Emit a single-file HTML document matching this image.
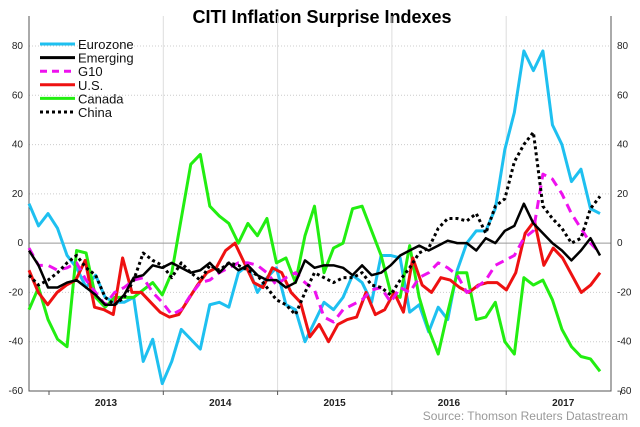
<!DOCTYPE html>
<html><head><meta charset="utf-8"><style>
body{margin:0;background:#fff;font-family:"Liberation Sans",Arial,sans-serif}
svg{display:block}
</style></head><body>
<svg id="c" width="640" height="427">
<text x="322" y="23" text-anchor="middle" font-size="18" font-weight="bold">CITI Inflation Surprise Indexes</text>
<text x="628" y="420" text-anchor="end" font-size="12" fill="#999">Source: Thomson Reuters Datastream</text>
</svg>
<script>
const yTicks=[80,60,40,20,0,-20,-40,-60];
const years=["2013","2014","2015","2016","2017"];
const seriesNames=["Eurozone","Emerging","G10","U.S.","Canada","China"];
const eurozone=[16,7,12,6,-5,-10,-18,-13,-22,-24,-24,-22,-48,-39,-57,-48,-35,-39,-43,-25,-24,-26,-12,-9,-20,-14,-10,-25,-27,-40,-32,-24,-27,-22,-13,-16,-24,-5,-5,-6,-28,-25,-36,-26,-31,-11,0,5,5,14,38,53,78,70,78,48,40,25,30,14,12];
const emerging=[-3,-9,-18,-18,-16,-15,-18,-21,-25,-25,-21,-14,-13,-9,-10,-8,-10,-12,-11,-8,-12,-8,-11,-9,-13,-15,-15,-18,-16,-7,-10,-9,-9,-10,-13,-9,-13,-12,-9,-5,-3,-1,-3,-1,1,0,0,-3,2,0,5,7,16,8,4,0,-3,-7,-3,2,-5];
const g10=[-2,-9,-9,-11,-10,-8,-15,-20,-25,-20,-18,-15,-14,-20,-24,-29,-27,-21,-16,-15,-12,-10,-8,-8,-9,-12,-17,-14,-12,-16,-19,-30,-32,-27,-25,-23,-19,-18,-24,-18,-20,-14,-12,-8,-10,-13,-20,-18,-15,-9,-7,-5,2,5,28,26,20,12,6,0,-4];
const us=[-11,-20,-25,-20,-17,-15,-7,-26,-27,-29,-6,-20,-20,-24,-28,-30,-29,-23,-17,-12,-10,-3,0,-8,-16,-18,-10,-12,-20,-24,-38,-33,-40,-33,-31,-30,-20,-29,-27,-20,-28,-6,-17,-20,-14,-15,-18,-20,-17,-16,-16,-19,-12,4,9,-9,-2,-6,-13,-20,-17,-12];
const canada=[-27,-18,-31,-39,-42,-3,-4,-22,-26,-22,-22,-22,-19,-16,-21,-12,10,32,36,15,11,8,0,8,3,10,-8,-6,-16,3,15,-12,-2,0,14,15,5,-5,-20,-22,-1,-22,-35,-45,-28,-12,-12,-31,-30,-24,-40,-45,-14,-17,-15,-23,-35,-42,-46,-47,-52];
const china=[-13,-17,-15,-12,-8,-5,-10,-13,-22,-25,-22,-15,-4,-7,-9,-14,-8,-12,-15,-9,-11,-8,-9,-11,-13,-18,-23,-25,-29,-20,-12,-14,-16,-14,-14,-12,-17,-18,-21,-15,-10,-4,-2,6,10,10,9,12,4,15,18,33,40,45,15,10,6,0,2,14,19];

const NS="http://www.w3.org/2000/svg";
const svg=document.getElementById('c');
const L=29,R=611,T=46,B=391;
const Y0=80,Y1=-60;
const y=v=>T+(Y0-v)/(Y0-Y1)*(B-T);
const x=(i,n)=>L+i*(600-L)/(n-1);
const yearX=k=>49+k*114.3;
function mk(tag,attrs,parent){const e=document.createElementNS(NS,tag);for(const k in attrs)e.setAttribute(k,attrs[k]);(parent||svg).appendChild(e);return e;}

// year grid
for(let k=0;k<=years.length;k++){
  const gx=yearX(k);
  if(k>0&&k<years.length){const g=mk('line',{x1:gx,x2:gx,y1:T-30,y2:B,stroke:'#ddd','stroke-width':1});
  
  }
  const tk=mk('line',{x1:gx,x2:gx,y1:B,y2:B+4,stroke:'#555'});
  
  
}
years.forEach((yr,k)=>{
  const t=mk('text',{x:yearX(k)+57,y:B+15,'text-anchor':'middle','font-size':'10','font-weight':'bold',fill:'#222'});
  t.textContent=yr;
  
  
});
// y grid & labels
yTicks.forEach(v=>{
  const gl=mk('line',{x1:L,x2:R,y1:y(v),y2:y(v),stroke:v===0?'#999':'#ccc','stroke-dasharray':v===0?'':'1,2','stroke-width':1});
  
  
  const a=mk('text',{x:L-6,y:y(v)+3,'text-anchor':'end','font-size':'10',fill:'#222'});
  a.textContent=v;
  
  
  const b=mk('text',{x:R+6,y:y(v)+3,'font-size':'10',fill:'#222'});
  b.textContent=v;
  
  
});
// axes
const ax=mk('path',{d:`M${L},${T-30}V${B}H${R}V${T-30}`,fill:'none',stroke:'#555','stroke-width':1});



const styles=[
 {d:eurozone,c:'#1ec0f0',dash:'',w:3},
 {d:canada,c:'#22ee11',dash:'',w:3},
 {d:us,c:'#ee1111',dash:'',w:3},
 {d:g10,c:'#ee11ee',dash:'9,6',w:3},
 {d:china,c:'#000',dash:'3,3',w:3},
 {d:emerging,c:'#000',dash:'',w:2.5}
];
const nameMap=new Map([[eurozone,'eurozone'],[emerging,'emerging'],[g10,'g10'],[us,'us'],[canada,'canada'],[china,'china']]);
styles.forEach(s=>{
  const n=s.d.length;
  const p=mk('polyline',{points:s.d.map((v,i)=>x(i,n)+','+y(v)).join(' '),fill:'none',stroke:s.c,'stroke-width':s.w,'stroke-dasharray':s.dash,'stroke-linejoin':'round'});
  
  
});
// legend
const leg=[['#1ec0f0',''],['#000',''],['#ee11ee','7,5'],['#ee1111',''],['#22ee11',''],['#000','3,3']];
seriesNames.forEach((nm,k)=>{
  const ly=44+k*13.6;
  const ln=mk('line',{x1:40,x2:75,y1:ly,y2:ly,stroke:leg[k][0],'stroke-width':3,'stroke-dasharray':leg[k][1]});
  
  
  const t=mk('text',{x:78,y:ly+5,'font-size':'13',fill:'#111'});
  t.textContent=nm;
  
  
});
</script>
</body></html>
